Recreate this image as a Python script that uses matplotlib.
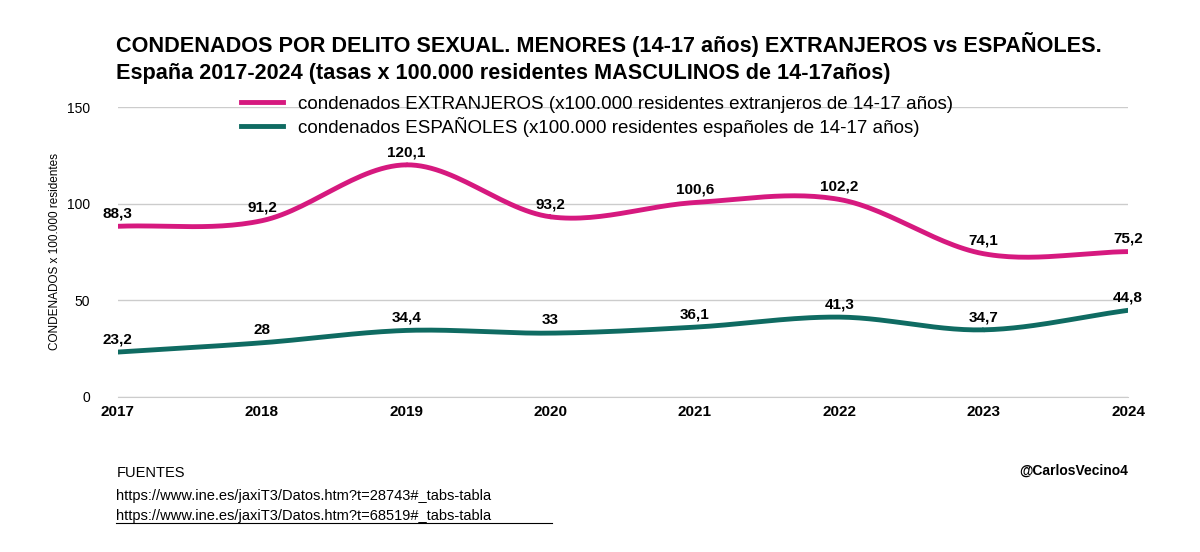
import numpy as np
import matplotlib.pyplot as plt

plt.rcParams['font.family'] = ['Liberation Sans', 'DejaVu Sans']

years = [2017, 2018, 2019, 2020, 2021, 2022, 2023, 2024]
extranjeros = [88.3, 91.2, 120.1, 93.2, 100.6, 102.2, 74.1, 75.2]
espanoles = [23.2, 28, 34.4, 33, 36.1, 41.3, 34.7, 44.8]
label_ext = "condenados EXTRANJEROS (x100.000 residentes extranjeros de 14-17 años)"
label_esp = "condenados ESPAÑOLES (x100.000 residentes españoles de 14-17 años)"


def smooth(x, y, n=30):
    # Catmull-Rom curve through the points
    x = np.asarray(x, float)
    y = np.asarray(y, float)
    px = np.concatenate([[2 * x[0] - x[1]], x, [2 * x[-1] - x[-2]]])
    py = np.concatenate([[2 * y[0] - y[1]], y, [2 * y[-1] - y[-2]]])
    xs, ys = [], []
    for i in range(1, len(px) - 2):
        t = np.linspace(0, 1, n)
        for p, out in ((px, xs), (py, ys)):
            p0, p1, p2, p3 = p[i - 1], p[i], p[i + 1], p[i + 2]
            out.extend(0.5 * (2 * p1 + (-p0 + p2) * t + (2 * p0 - 5 * p1 + 4 * p2 - p3) * t**2
                              + (-p0 + 3 * p1 - 3 * p2 + p3) * t**3))
    return xs, ys


fig = plt.figure(figsize=(12, 5.52), dpi=100)
ax = fig.add_axes([0.098, 0.281, 0.842, 0.525])

pink = '#D6197F'
teal = '#0F6B62'
xs, ys = smooth(years, extranjeros)
ax.plot(xs, ys, color=pink, lw=3.5, label=label_ext)
xs, ys = smooth(years, espanoles)
ax.plot(xs, ys, color=teal, lw=3.5, label=label_esp)

for x, v in zip(years, extranjeros):
    ax.text(x, v + 3, str(v).replace('.', ','), ha='center', va='bottom', fontsize=11, fontweight='bold')
for x, v in zip(years, espanoles):
    s = (str(v) if v % 1 else str(int(v))).replace('.', ',')
    ax.text(x, v + 3, s, ha='center', va='bottom', fontsize=11, fontweight='bold')

ax.set_xlim(2017, 2024)
ax.set_ylim(0, 150)
ax.set_yticks([0, 50, 100, 150])
ax.set_xticks(years)
ax.set_xticklabels([str(y) for y in years], fontweight='bold', fontsize=11)
ax.tick_params(axis='y', labelsize=10, length=0, pad=20)
ax.tick_params(axis='x', length=0, pad=6)
ax.grid(axis='y', color='#cccccc', lw=1)
ax.set_axisbelow(True)
for s in ['top', 'right', 'left']:
    ax.spines[s].set_visible(False)
ax.spines['bottom'].set_color('#cccccc')
ax.set_ylabel('CONDENADOS x 100.000 residentes', fontsize=8.5, labelpad=4)

ax.legend(loc='upper left', bbox_to_anchor=(0.115, 1.065), frameon=False, fontsize=13.5,
          handlelength=2.2, labelspacing=0.2, borderaxespad=0)

fig.text(0.097, 0.905, 'CONDENADOS POR DELITO SEXUAL. MENORES (14-17 años) EXTRANJEROS vs ESPAÑOLES.',
         fontsize=15.6, fontweight='bold')
fig.text(0.097, 0.857, 'España 2017-2024 (tasas x 100.000 residentes MASCULINOS de 14-17años)',
         fontsize=15.6, fontweight='bold')

fig.text(0.097, 0.135, 'FUENTES', fontsize=10.5)
fig.text(0.097, 0.095, 'https://www.ine.es/jaxiT3/Datos.htm?t=28743#_tabs-tabla', fontsize=10.5)
fig.text(0.097, 0.058, 'https://www.ine.es/jaxiT3/Datos.htm?t=68519#_tabs-tabla', fontsize=10.5)
fig.add_artist(plt.Line2D([0.097, 0.46], [0.052, 0.052], color='black', lw=0.8))
fig.text(0.94, 0.14, '@CarlosVecino4', fontsize=10, fontweight='bold', ha='right')

fig.savefig('out.png', dpi=100)
